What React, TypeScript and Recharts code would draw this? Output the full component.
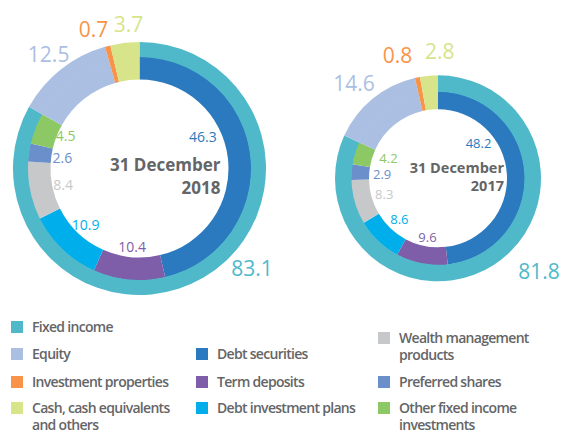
import React from 'react';
import { PieChart, Pie, Cell } from 'recharts';

// outer ring: asset classes
const outerNames = ['Fixed income', 'Equity', 'Investment properties', 'Cash, cash equivalents and others'];
const outerColors = ['#4fb9ca', '#abbfe2', '#f7944a', '#d8e48a'];
const outer2018 = [83.1, 12.5, 0.7, 3.7];
const outer2017 = [81.8, 14.6, 0.8, 2.8];

// inner ring: breakdown of fixed income
const innerNames = [
    'Debt securities',
    'Term deposits',
    'Debt investment plans',
    'Wealth management products',
    'Preferred shares',
    'Other fixed income investments'
];
const innerColors = ['#2b7abf', '#7f5ea9', '#00aeeb', '#c7c8ca', '#6b8fca', '#8cc864'];
const inner2018 = [46.3, 10.4, 10.9, 8.4, 2.6, 4.5];
const inner2017 = [48.2, 9.6, 8.6, 8.3, 2.9, 4.2];

const years = ['2018', '2017'];

const FONT = '"Open Sans", sans-serif';
const GREY = '#646567';
const RAD = Math.PI / 180;

// legend placement (column x, first-line centre y)
const legendSlots: Record<string, { x: number; y: number }> = {
    'Fixed income': { x: 11, y: 327 },
    'Equity': { x: 11, y: 354 },
    'Investment properties': { x: 11, y: 382 },
    'Cash, cash equivalents and others': { x: 11, y: 408 },
    'Debt securities': { x: 196, y: 354 },
    'Term deposits': { x: 196, y: 382 },
    'Debt investment plans': { x: 196, y: 408 },
    'Wealth management products': { x: 378, y: 338 },
    'Preferred shares': { x: 378, y: 382 },
    'Other fixed income investments': { x: 378, y: 408 }
};
const legendText: Record<string, string> = {
    'Cash, cash equivalents and others': 'Cash, cash equivalents\nand others',
    'Wealth management products': 'Wealth management\nproducts',
    'Other fixed income investments': 'Other fixed income\ninvestments'
};

const makeLabel = (lead: number, leadOff: number, offset: number, fontSize: number, skipFrom: number, nudge: number[][]) => (props: any) => {
    const { cx, cy, startAngle, endAngle, innerRadius, outerRadius, index, value, fill } = props;
    if (index >= skipFrom) return null;
    let angle = (startAngle + endAngle) / 2;
    let off = offset;
    if (index === 0) {
        angle = startAngle - (startAngle - endAngle) * lead;
        off = leadOff;
    }
    const r = off > 0 ? outerRadius + off : innerRadius + off;
    const [dx, dy] = nudge[index] || [0, 0];
    const x = cx + r * Math.cos(-angle * RAD) + dx;
    const y = cy + r * Math.sin(-angle * RAD) + dy;
    return (
        <text x={x} y={y} fill={fill} fontSize={fontSize} fontFamily={FONT} textAnchor="middle" dominantBaseline="central">
            {value}
        </text>
    );
};

interface DonutProps {
    cx: number;
    cy: number;
    r: [number, number, number, number];
    outer: number[];
    inner: number[];
    year: string;
    leadIn: [number, number];
    leadOut: [number, number];
    inOff: number;
    outOff: number;
    outNudge: number[][];
    inNudge: number[][];
    inSize: number;
}

const donut = ({ cx, cy, r, outer, inner, year, leadIn, leadOut, inOff, outOff, outNudge, inNudge, inSize }: DonutProps) => {
    const outerData = outerNames.map((name, i) => ({ name, value: outer[i], fill: outerColors[i] }));
    const innerData = [
        ...innerNames.map((name, i) => ({ name, value: inner[i], fill: innerColors[i] })),
        ...outerData.slice(1)
    ];
    return [
        <Pie
            key={`in-${year}`}
            data={innerData}
            dataKey="value"
            cx={cx}
            cy={cy}
            innerRadius={r[0]}
            outerRadius={r[1]}
            startAngle={90}
            endAngle={-270}
            stroke="none"
            isAnimationActive={false}
            labelLine={false}
            label={makeLabel(leadIn[0], leadIn[1], inOff, inSize, innerNames.length, inNudge)}
        >
            {innerData.map((d, i) => <Cell key={i} fill={d.fill} />)}
        </Pie>,
        <Pie
            key={`out-${year}`}
            data={outerData}
            dataKey="value"
            cx={cx}
            cy={cy}
            innerRadius={r[2]}
            outerRadius={r[3]}
            startAngle={90}
            endAngle={-270}
            stroke="none"
            isAnimationActive={false}
            labelLine={false}
            label={makeLabel(leadOut[0], leadOut[1], outOff, 21, 99, outNudge)}
        >
            {outerData.map((d, i) => <Cell key={i} fill={d.fill} />)}
        </Pie>
    ];
};

export default function App() {
    const left = { cx: 139.5, cy: 168.5 };
    const right = { cx: 438, cy: 178.3 };
    const title = { fontFamily: FONT, fontWeight: 700, fill: GREY, textAnchor: 'end' as const, dominantBaseline: 'central' as const };
    return (
        <div style={{ position: 'absolute', left: 0, top: 0, width: 569, height: 433, background: '#fff' }}>
            <PieChart width={569} height={305} margin={{ top: 0, right: 0, bottom: 0, left: 0 }}>
                {donut({
                    ...left, r: [89, 112, 111.5, 126.5], outer: outer2018, inner: inner2018, year: years[0],
                    leadIn: [0.38, -18], leadOut: [0.44, 24], inOff: -11, outOff: 20,
                    outNudge: [[0, 0], [0, 0], [-9, 2], [6, 1]], inNudge: [[0, 0], [0, 0], [0, 0], [0, 0], [0, 0], [-1, -5]], inSize: 14
                })}
                {donut({
                    ...right, r: [69, 87, 86.5, 103], outer: outer2017, inner: inner2017, year: years[1],
                    leadIn: [0.28, -15], leadOut: [0.45, 34], inOff: -13, outOff: 25,
                    outNudge: [[0, 0], [-3, 4], [-15, 2], [13, 0]], inNudge: [[0, 0], [0, 4], [0, 0], [0, 0], [0, 0], [4, -4]], inSize: 13
                })}
                <text x={left.cx + 81} y={left.cy - 4} fontSize={17} {...title}>31 December</text>
                <text x={left.cx + 81} y={left.cy + 19} fontSize={17} {...title}>{years[0]}</text>
                <text x={right.cx + 66} y={right.cy - 11} fontSize={14.5} {...title}>31 December</text>
                <text x={right.cx + 66} y={right.cy + 7} fontSize={14.5} {...title}>{years[1]}</text>
            </PieChart>
            {[...outerNames.map((n, i) => [n, outerColors[i]]), ...innerNames.map((n, i) => [n, innerColors[i]])].map(([name, color]) => {
                const slot = legendSlots[name];
                return (
                    <div key={name} style={{ position: 'absolute', left: slot.x, top: slot.y - 8, display: 'flex', alignItems: 'flex-start' }}>
                        <div style={{ width: 12, height: 12, marginTop: 2, background: color }} />
                        <div style={{ marginLeft: 9, fontFamily: FONT, fontWeight: 600, fontSize: 14, lineHeight: '16.5px', letterSpacing: -0.7, color: GREY, whiteSpace: 'pre' }}>
                            {legendText[name] || name}
                        </div>
                    </div>
                );
            })}
        </div>
    );
}
